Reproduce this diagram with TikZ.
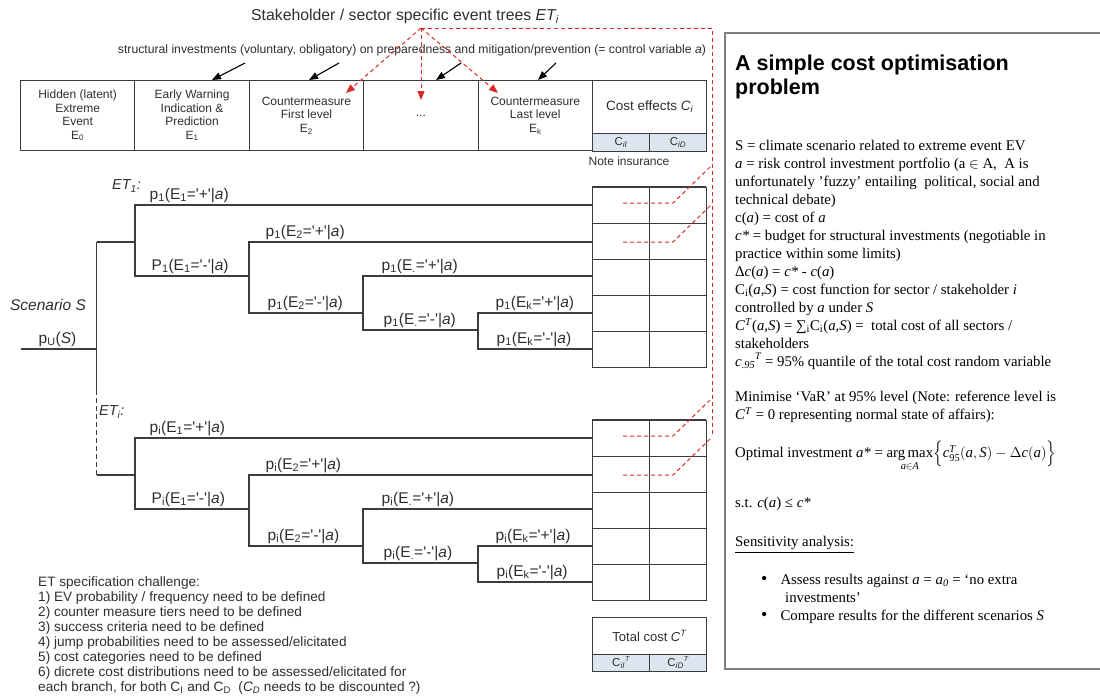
\documentclass[tikz,border=0pt]{standalone}
\usepackage{amsmath}
\usepackage{fontspec}
\setmainfont{Liberation Sans}
\newfontfamily\tms{Liberation Serif}
\usetikzlibrary{arrows.meta,positioning}
\definecolor{etgrey}{HTML}{3C3C3C}
\definecolor{ettext}{HTML}{2E2E2E}
\definecolor{etred}{HTML}{D92A2A}
\definecolor{etblue}{HTML}{DCE5F0}
\definecolor{etframe}{HTML}{808080}
\newcommand{\sq}{\textquotesingle}
\newcommand{\fs}[2]{\fontsize{#1}{#2}\selectfont}

\begin{document}
\begin{tikzpicture}[x=1pt,y=-1pt,
  branch/.style={draw=etgrey, line width=1.2pt},
  cell/.style={draw=etgrey, line width=0.9pt},
  blab/.style={anchor=south west, inner sep=0.5pt, text=ettext, font=\fs{15.5}{17}},
  hcell/.style={cell, anchor=north west, minimum width=114.4, minimum height=70, align=center, inner sep=1pt, text=ettext, font=\fs{12}{13.5}},
  subcell/.style={cell, fill=etblue, anchor=north west, minimum width=57, minimum height=18, inner sep=0pt, text=ettext, font=\fs{11.5}{12}},
  reddash/.style={draw=etred, line width=1pt, dash pattern=on 4pt off 3pt},
  redarrow/.style={reddash, -{Triangle[length=9pt,width=7pt]}},
  ctrlarrow/.style={draw=black, line width=1.1pt, -{Triangle[length=9pt,width=7pt]}}]
\useasboundingbox (0,0) rectangle (1100,697);
\clip (0,0) rectangle (1100,697);

\node[font=\fs{15.8}{17}, text=ettext] (title) at (405,16) {Stakeholder / sector specific event trees \textit{ET\textsubscript{i}}};
\node[font=\fs{12.2}{14}, text=ettext] (ctrl) at (412,50) {structural investments (voluntary, obligatory) on preparedness and mitigation/prevention (= control variable \textit{a})};

\foreach \k/\nm/\txt in {0/hev/{Hidden (latent)\\Extreme\\Event\\E\textsubscript{0}},
  1/hwarn/{Early Warning\\Indication \&\\Prediction\\E\textsubscript{1}},
  2/hfirst/{Countermeasure\\First level\\E\textsubscript{2}},
  3/hdots/{...},
  4/hlast/{Countermeasure\\Last level\\E\textsubscript{k}}}
  \node[hcell] (\nm) at ({20+\k*114.4},80) {\txt};
\node[hcell, minimum height=53, font=\fs{13.5}{15}] (hcost) at (592,80) {Cost effects \textit{C\textsubscript{i}}};
\node[subcell] (hci) at (592,133) {C\textsubscript{\textit{iI}}};
\node[subcell] (hcd) at (649,133) {C\textsubscript{\textit{iD}}};
\node[font=\fs{12}{13}, text=ettext] (note) at (629,161) {Note insurance};

\foreach \s/\e in {245/212,339/309,461/436,556/538}
  \draw[ctrlarrow] (\s,63) -- (\e,80);

\coordinate (apex) at (421,28);
\coordinate (corner) at (712,28);
\coordinate (vend) at (712,437);
\coordinate (tfirst) at (346,93);
\coordinate (tdots) at (421,100);
\coordinate (tlast) at (498,93);
\draw[reddash] (apex) -- (corner) -- (vend);
\draw[redarrow] (apex) -- (tfirst);
\draw[redarrow] (apex) -- (tdots);
\draw[redarrow] (apex) -- (tlast);

\node[font=\itshape\fs{15.5}{17}, text=ettext] (scen) at (48,305) {Scenario S};
\node[blab] (pu) at (38,347) {p\textsubscript{U}(\textit{S})};
\draw[branch] (20.7,349) -- (96.5,349);
\draw[branch] (96.5,242) -- (96.5,390);
\draw[draw=etgrey, line width=0.8pt, dash pattern=on 5pt off 3pt] (96.5,390) -- (96.5,475);
\node[anchor=west, inner sep=0pt, font=\itshape\fs{14.5}{16}, text=ettext] (et1) at (112,186) {ET\textsubscript{1}:};
\node[anchor=west, inner sep=0pt, font=\itshape\fs{14.5}{16}, text=ettext] (eti) at (99,412) {ET\textsubscript{i}:};

\foreach \tr/\y in {1/205,i/438} {
  \draw[branch] (96.5,\y+37) -- (135,\y+37);
  \draw[branch] (592,\y) -- (135,\y) -- (135,\y+71) -- (249,\y+71);
  \draw[branch] (592,\y+37) -- (249,\y+37) -- (249,\y+108) -- (363,\y+108);
  \draw[branch] (592,\y+71) -- (363,\y+71) -- (363,\y+125) -- (478,\y+125);
  \draw[branch] (592,\y+108) -- (478,\y+108) -- (478,\y+144) -- (592,\y+144);
  \node[blab] (ap\tr) at (149,\y-2) {p\textsubscript{\tr}(E\textsubscript{1}=\sq+\sq|\textit{a})};
  \node[blab] (am\tr) at (151,\y+69) {P\textsubscript{\tr}(E\textsubscript{1}=\sq-\sq|\textit{a})};
  \node[blab] (bp\tr) at (265,\y+35) {p\textsubscript{\tr}(E\textsubscript{2}=\sq+\sq|\textit{a})};
  \node[blab] (bm\tr) at (267,\y+106) {p\textsubscript{\tr}(E\textsubscript{2}=\sq-\sq|\textit{a})};
  \node[blab] (cp\tr) at (381,\y+69) {p\textsubscript{\tr}(E\textsubscript{.}=\sq+\sq|\textit{a})};
  \node[blab] (cm\tr) at (383,\y+123) {p\textsubscript{\tr}(E\textsubscript{.}=\sq-\sq|\textit{a})};
  \node[blab] (dp\tr) at (495,\y+106) {p\textsubscript{\tr}(E\textsubscript{k}=\sq+\sq|\textit{a})};
  \node[blab] (dm\tr) at (496,\y+142) {p\textsubscript{\tr}(E\textsubscript{k}=\sq-\sq|\textit{a})};
  \draw[cell] (592,\y-18) rectangle (706,\y+162);
  \draw[etgrey, line width=1.6pt] (592,\y-18) -- (706,\y-18);
  \foreach \r in {1,...,4}
    \draw[cell] (592,\y-18+36*\r) -- (706,\y-18+36*\r);
  \draw[cell] (649,\y-18) -- (649,\y+162);
  \draw[reddash] (623,\y-2) -- (673,\y-2) -- (710,\y-38);
  \draw[reddash] (623,\y+37) -- (673,\y+37) -- (710,\y+1);
}

\node[cell, anchor=north west, minimum width=114, minimum height=37, font=\fs{13}{14}, text=ettext] (tot) at (592,617) {Total cost \textit{C\textsuperscript{T}}};
\node[subcell, minimum height=17] (tci) at (592,654) {C\textsubscript{\textit{iI}}\raisebox{5pt}{\scriptsize\textit{T}}};
\node[subcell, minimum height=17] (tcd) at (649,654) {C\textsubscript{\textit{iD}}\raisebox{5pt}{\scriptsize\textit{T}}};

\node[anchor=north west, align=left, inner sep=0pt, font=\fs{13.6}{15}, text=ettext] (spec) at (38,576) {ET specification challenge:\\
1) EV probability / frequency need to be defined\\
2) counter measure tiers need to be defined\\
3) success criteria need to be defined\\
4) jump probabilities need to be assessed/elicitated\\
5) cost categories need to be defined\\
6) dicrete cost distributions need to be assessed/elicitated for\\
each branch, for both C\textsubscript{I} and C\textsubscript{D}\ \ (\textit{C\textsubscript{D}} needs to be discounted ?)};

\draw[draw=etframe, line width=1.5pt] (725,33) rectangle (1120,669);
\node[anchor=north west, align=left, inner sep=0pt, font=\bfseries\fs{21.5}{24}] (ptitle) at (735,55) {A simple cost optimisation\\problem};
\node[anchor=north west, align=left, inner sep=0pt, font=\tms\fs{14.8}{18}] (pbody) at (735,140) {S = climate scenario related to extreme event EV\\
\textit{a} = risk control investment portfolio (a $\in$ A,\ \ A is\\
unfortunately ’fuzzy’ entailing\ \ political, social and\\
technical debate)\\
c(\textit{a}) = cost of \textit{a}\\
\textit{c*} = budget for structural investments (negotiable in\\
practice within some limits)\\
Δ\textit{c}(\textit{a}) = \textit{c*} - \textit{c}(\textit{a})\\
C\textsubscript{i}(\textit{a},\textit{S}) = cost function for sector / stakeholder \textit{i}\\
controlled by \textit{a} under \textit{S}\\
\textit{C}\textsuperscript{\textit{T}}(\textit{a},\textit{S}) = ∑\textsubscript{i}C\textsubscript{i}(\textit{a},\textit{S}) =\ \ total cost of all sectors /\\
stakeholders\\
\textit{c}\textsubscript{\textit{.95}}\raisebox{7pt}{\fs{10}{10}\textit{T}} = 95\% quantile of the total cost random variable\\[17pt]
Minimise ‘VaR’ at 95\% level (Note: reference level is\\
\textit{C}\textsuperscript{\textit{T}} = 0 representing normal state of affairs):\\[17pt]
Optimal investment \textit{a*} = $\underset{\text{\itshape a}\in \text{\itshape A}}{\text{arg\,max}}\Bigl\{\text{\itshape c}_{\text{95}}^{\text{\itshape T}}(\text{\itshape a},\text{\itshape S})-\Delta \text{\itshape c}(\text{\itshape a})\Bigr\}$\\[25pt]
s.t. \textit{c}(\textit{a}) ≤ \textit{c*}\\[21pt]
\underline{Sensitivity analysis:}\\[20pt]
\hspace*{26pt}{\fs{18}{18}\textbullet}\hspace{13pt}Assess results against \textit{a} = \textit{a\textsubscript{0}} = ‘no extra\\
\hspace*{50pt}investments’\\
\hspace*{26pt}{\fs{18}{18}\textbullet}\hspace{13pt}Compare results for the different scenarios \textit{S}};
\end{tikzpicture}
\end{document}
